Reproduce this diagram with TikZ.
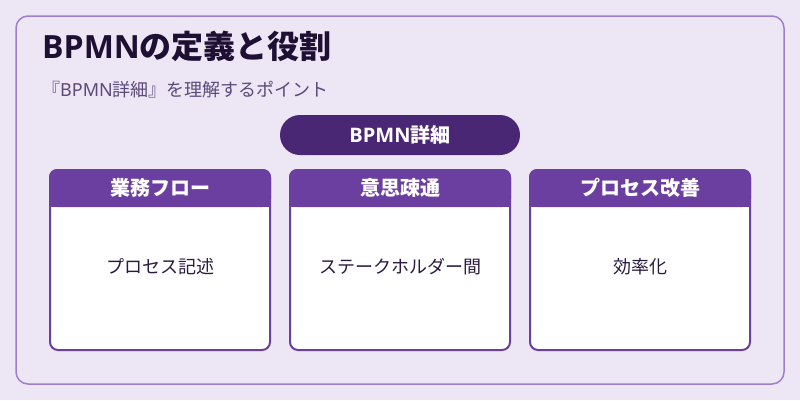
\documentclass[tikz,border=0pt]{standalone}
\usepackage{fontspec}
\setmainfont{Noto Sans}
\newfontfamily\latb{Open Sans}
\newfontfamily\jp{Noto Sans CJK JP}
\definecolor{bgc}{HTML}{EDE6F5}
\definecolor{framec}{HTML}{A07ECF}
\definecolor{pillc}{HTML}{4A2775}
\definecolor{headc}{HTML}{6B3FA0}
\definecolor{titlec}{HTML}{1E1033}
\definecolor{subc}{HTML}{5B4A7A}
\definecolor{bodyc}{HTML}{2A1A3F}
\begin{document}
\begin{tikzpicture}[x=1pt,y=-1pt,
  cardbody/.style={draw=headc,line width=2pt,fill=white,rounded corners=8pt},
  cardhead/.style={fill=headc,rounded corners=8pt},
  headtext/.style={text=white,font=\jp\bfseries\fontsize{20}{22}\selectfont},
  bodytext/.style={text=bodyc,font=\jp\fontsize{18}{20}\selectfont}]
\useasboundingbox (0,0) rectangle (800,400);
\fill[bgc] (0,0) rectangle (800,400);
\draw[framec,line width=1.5pt,rounded corners=12pt] (16,16) rectangle (784,384);
\node[anchor=base west,text=titlec,font=\latb\bfseries\fontsize{32}{36}\selectfont,inner sep=0pt] (title) at (42,58) {BPMN{\jp\bfseries の定義と役割}};
\node[anchor=base west,text=subc,font=\fontsize{18}{20}\selectfont,inner sep=0pt] (sub) at (42,96) {{\jp 『}BPMN{\jp 詳細』を理解するポイント}};
\fill[pillc,rounded corners=20pt] (280,115) rectangle (520,155);
\node[text=white,font=\latb\bfseries\fontsize{20}{22}\selectfont] (pill) at (400,135) {BPMN{\jp\bfseries 詳細}};
\foreach \x/\h/\b/\n in {50/業務フロー/プロセス記述/a,290/意思疎通/ステークホルダー間/b,530/プロセス改善/効率化/c}{
  \draw[cardbody] (\x,170) rectangle (\x+220,350);
  \fill[cardhead] (\x-1,169) rectangle (\x+221,207);
  \fill[headc] (\x-1,195) rectangle (\x+221,207);
  \node[headtext] (h\n) at (\x+110,188) {\h};
  \node[bodytext] (b\n) at (\x+110,266.5) {\b};
}
\end{tikzpicture}
\end{document}
